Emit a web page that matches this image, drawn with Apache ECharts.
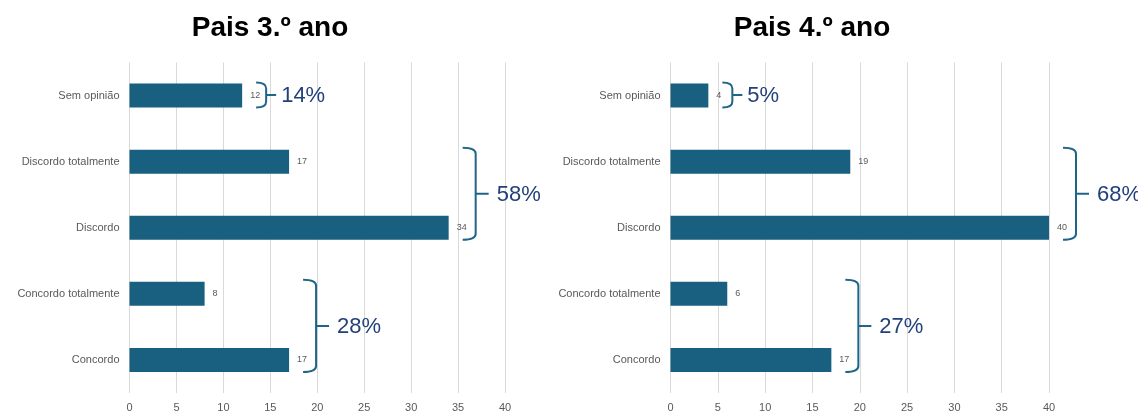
<!DOCTYPE html>
<html>
<head>
<meta charset="utf-8">
<script src="https://cdn.jsdelivr.net/npm/echarts@6/dist/echarts.min.js"></script>
<style>
html,body{margin:0;padding:0;background:#fff;}
#chart{width:1138px;height:411px;}
</style>
</head>
<body>
<div id="chart"></div>
<script>
// ---- data ----
const categories = ['Sem opinião', 'Discordo totalmente', 'Discordo', 'Concordo totalmente', 'Concordo'];
const titles = ['Pais 3.º ano', 'Pais 4.º ano'];
const values3 = [12, 17, 34, 8, 17];
const values4 = [4, 19, 40, 6, 17];
const xTicks = [0, 5, 10, 15, 20, 25, 30, 35, 40];
// grouped brackets: category index range + label
const groups3 = [{from: 0, to: 0, label: '14%'}, {from: 1, to: 2, label: '58%'}, {from: 3, to: 4, label: '28%'}];
const groups4 = [{from: 0, to: 0, label: '5%'}, {from: 1, to: 2, label: '68%'}, {from: 3, to: 4, label: '27%'}];

// ---- styles ----
const BAR = '#185f80';
const BRACE = '#1f6587';
const PCT = '#22407a';
const GRAY = '#595959';
const FONT = 'Liberation Sans, Arial, sans-serif';

const chart = echarts.init(document.getElementById('chart'), null, {renderer: 'canvas'});

function braceData(groups, values) {
  return groups.map(g => [Math.max(...values.slice(g.from, g.to + 1)), g.from, g.to]);
}

function makeBraceRender(groups) {
  return function (params, api) {
    const v = api.value(0), from = api.value(1), to = api.value(2);
    const single = from === to;
    const pTop = api.coord([v, from]);
    const pBot = api.coord([v, to]);
    const x0 = pTop[0] + 14;
    const w = single ? 10 : 13;
    const xv = x0 + w;
    const top = pTop[1] - (single ? 13 : 14);
    const bottom = pBot[1] + 12;
    const mid = (top + bottom) / 2;
    const r = 6;
    const tick = single ? 10 : 13;
    const path = 'M' + x0 + ',' + top +
      ' Q' + xv + ',' + top + ' ' + xv + ',' + (top + r) +
      ' L' + xv + ',' + (bottom - r) +
      ' Q' + xv + ',' + bottom + ' ' + x0 + ',' + bottom +
      ' M' + xv + ',' + mid + ' L' + (xv + tick) + ',' + mid;
    return {
      type: 'group',
      children: [
        {type: 'path', shape: {pathData: path}, style: {stroke: BRACE, lineWidth: 2, fill: null}},
        {type: 'text', style: {
          text: groups[params.dataIndex].label,
          x: xv + tick + (single ? 5 : 8), y: mid + 1,
          verticalAlign: 'middle', align: 'left',
          font: '22px ' + FONT, fill: PCT
        }}
      ]
    };
  };
}

const grids = [
  {left: 129.5, top: 62.5, width: 375.5, height: 330.5, outerBoundsMode: 'none', containLabel: false},
  {left: 670.5, top: 62.5, width: 378.5, height: 330.5, outerBoundsMode: 'none', containLabel: false}
];

function xAxis(i) {
  return {
    gridIndex: i, type: 'value', min: xTicks[0], max: xTicks[xTicks.length - 1],
    interval: xTicks[1] - xTicks[0],
    axisLine: {show: false}, axisTick: {show: false},
    axisLabel: {color: GRAY, fontSize: 11, fontFamily: FONT, margin: 9},
    splitLine: {show: true, lineStyle: {color: '#d9d9d9', width: 1}}
  };
}
function yAxis(i) {
  return {
    gridIndex: i, type: 'category', data: categories, inverse: true,
    axisLine: {show: false}, axisTick: {show: false},
    axisLabel: {color: GRAY, fontSize: 11, fontFamily: FONT, margin: 10}
  };
}
function barSeries(i, values) {
  return {
    type: 'bar', xAxisIndex: i, yAxisIndex: i, data: values, barWidth: 24,
    itemStyle: {color: BAR},
    label: {show: true, position: 'right', distance: 8, color: GRAY, fontSize: 9, fontFamily: FONT},
    silent: true, animation: false
  };
}
function braceSeries(i, groups, values) {
  return {
    type: 'custom', xAxisIndex: i, yAxisIndex: i, clip: false, z: 5,
    data: braceData(groups, values), renderItem: makeBraceRender(groups),
    silent: true, animation: false
  };
}

chart.setOption({
  animation: false,
  title: [
    {text: titles[0], left: 265, top: 9, textAlign: 'center',
     textStyle: {fontSize: 28, fontWeight: 'bold', color: '#000', fontFamily: FONT}},
    {text: titles[1], left: 807, top: 9, textAlign: 'center',
     textStyle: {fontSize: 28, fontWeight: 'bold', color: '#000', fontFamily: FONT}}
  ],
  grid: grids,
  xAxis: [xAxis(0), xAxis(1)],
  yAxis: [yAxis(0), yAxis(1)],
  series: [
    barSeries(0, values3), barSeries(1, values4),
    braceSeries(0, groups3, values3), braceSeries(1, groups4, values4)
  ]
});
</script>
</body>
</html>
